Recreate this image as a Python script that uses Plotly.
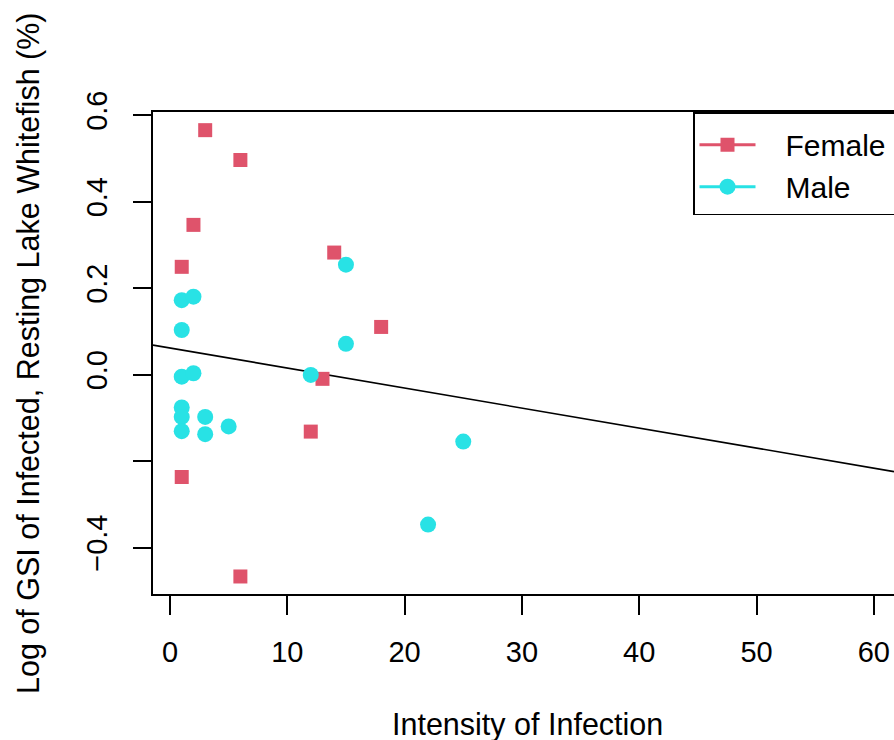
import plotly.graph_objects as go

# ---- data ----
female_x = [3, 6, 2, 1, 14, 18, 13, 12, 1, 6]
female_y = [0.565, 0.496, 0.346, 0.249, 0.282, 0.110, -0.010, -0.132, -0.237, -0.467]

male_x = [15, 1, 2, 1, 15, 1, 2, 12, 1, 1, 3, 5, 1, 3, 25, 22]
male_y = [0.254, 0.172, 0.180, 0.103, 0.071, -0.005, 0.003, -0.001,
          -0.076, -0.098, -0.098, -0.120, -0.131, -0.138, -0.155, -0.347]

fit_intercept = 0.0613
fit_slope = -0.00463

x_ticks = [0, 10, 20, 30, 40, 50, 60]
y_ticks = [-0.4, -0.2, 0.0, 0.2, 0.4, 0.6]
y_ticklabels = ["\u22120.4", "", "0.0", "0.2", "0.4", "0.6"]

x_range = [-1.449, 61.72]
y_range = [-0.5075, 0.607]

FEMALE_COL = "#DF536B"
MALE_COL = "#28E2E5"
FONT = "Liberation Sans, Arial, Helvetica, sans-serif"
GAP = "\u00a0\u00a0\u00a0"
TAIL = "\u00a0\u00a0"

W, H = 894, 740
L, R, T, B = 153, 0, 112, 146
pw = W - L - R
ph = H - T - B

def px_x(p):
    return (p - L) / pw

def px_y(p):
    return (H - B - p) / ph

fig = go.Figure()

# regression line across the plotting range
fit_x = list(x_range)
fit_y = [fit_intercept + fit_slope * v for v in fit_x]
fig.add_trace(go.Scatter(x=fit_x, y=fit_y, mode="lines",
                         line=dict(color="black", width=1.6),
                         showlegend=False, hoverinfo="skip"))

fig.add_trace(go.Scatter(x=female_x, y=female_y, mode="markers", name="Female",
                         marker=dict(symbol="square", size=14, color=FEMALE_COL),
                         showlegend=False))
fig.add_trace(go.Scatter(x=male_x, y=male_y, mode="markers", name="Male",
                         marker=dict(symbol="circle", size=16, color=MALE_COL),
                         showlegend=False))

# legend entries (line + marker, as in the original)
fig.add_trace(go.Scatter(x=[None], y=[None], mode="lines+markers",
                         name=GAP + "Female" + TAIL,
                         line=dict(color=FEMALE_COL, width=3),
                         marker=dict(symbol="square", size=14, color=FEMALE_COL)))
fig.add_trace(go.Scatter(x=[None], y=[None], mode="lines+markers",
                         name=GAP + "Male",
                         line=dict(color=MALE_COL, width=3),
                         marker=dict(symbol="circle", size=16, color=MALE_COL)))

fig.update_layout(
    width=W, height=H,
    margin=dict(l=L, r=R, t=T, b=B, autoexpand=False),
    paper_bgcolor="white", plot_bgcolor="white",
    font=dict(family=FONT, size=29, color="black"),
    showlegend=True,
    legend=dict(x=px_x(693), y=1, xanchor="left", yanchor="top",
                bgcolor="white", bordercolor="black", borderwidth=1.5,
                font=dict(size=30), itemwidth=56, tracegroupgap=0,
                title=dict(text="\u00a0", font=dict(size=4))),
    xaxis=dict(range=x_range, tickvals=x_ticks, showgrid=False, zeroline=False,
               showline=True, linecolor="black", linewidth=1.6, mirror=True,
               ticks="outside", ticklen=19, tickwidth=1.6, tickcolor="black",
               tickfont=dict(size=29), ticklabelstandoff=12),
    yaxis=dict(range=y_range, tickvals=y_ticks, ticktext=y_ticklabels,
               showgrid=False, zeroline=False,
               showline=True, linecolor="black", linewidth=1.6,
               ticks="outside", ticklen=18, tickwidth=1.6, tickcolor="black",
               tickangle=-90, tickfont=dict(size=29), ticklabelstandoff=15),
    annotations=[
        dict(text="Intensity of Infection", xref="paper", yref="paper",
             x=px_x(527), y=px_y(724), xanchor="center", yanchor="middle",
             showarrow=False, font=dict(size=30.5)),
        dict(text="Log of GSI of Infected, Resting Lake Whitefish (%)",
             xref="paper", yref="paper", textangle=-90,
             x=px_x(28), y=px_y(353), xanchor="center", yanchor="middle",
             showarrow=False, font=dict(size=30.5)),
    ],
)

fig.write_html("out.html",
               config={"displayModeBar": False},
               post_script="document.body.style.margin='0';document.body.style.overflow='hidden';")
